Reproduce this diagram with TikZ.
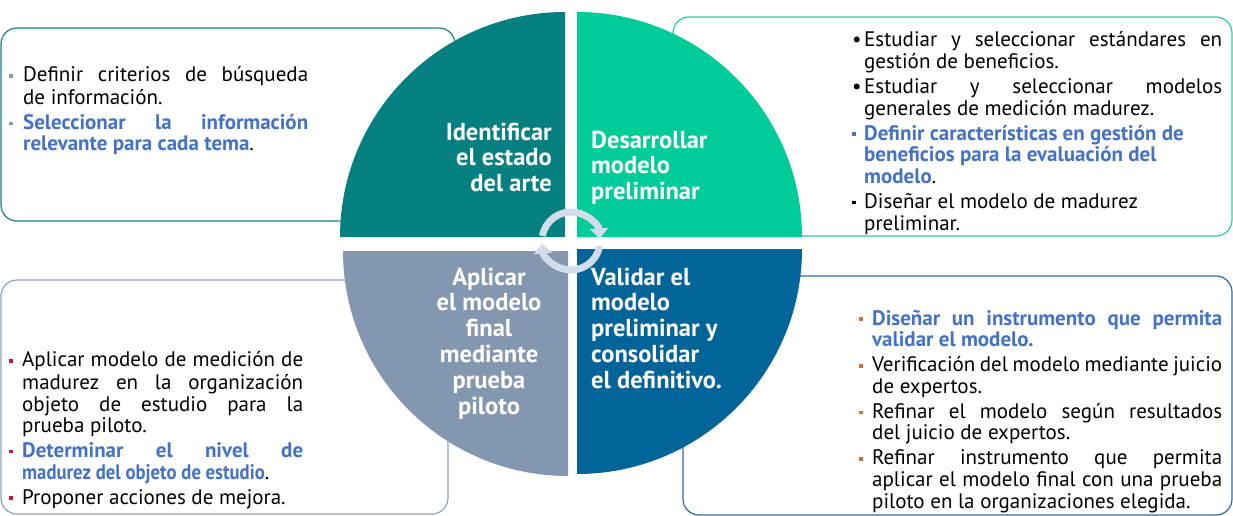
\documentclass[tikz,border=0pt]{standalone}
\usepackage{fontspec}
\setmainfont{PT Sans}
\usetikzlibrary{arrows.meta}
\definecolor{qA}{HTML}{03807F}
\definecolor{qB}{HTML}{00CC99}
\definecolor{qC}{HTML}{8497B0}
\definecolor{qD}{HTML}{03649A}
\definecolor{bA}{HTML}{1F7F7D}
\definecolor{bB}{HTML}{33CC99}
\definecolor{bC}{HTML}{8EA2BE}
\definecolor{bD}{HTML}{2E6DA3}
\definecolor{hl}{HTML}{4472C4}
\definecolor{gbul}{HTML}{7F9F9C}
\definecolor{rbul}{HTML}{C0163C}
\definecolor{obul}{HTML}{D2702F}
\definecolor{ringc}{HTML}{D3DCEA}
\newcommand\sqb[2]{\makebox[#2][l]{\textcolor{#1}{\rule[4.2pt]{3.6pt}{3.6pt}}}}
\newcommand\rdb[1]{\makebox[#1][l]{\textbullet}}
\newcommand\bitem[3]{\par\noindent\hangindent=#1\hangafter=1 #2#3}
\newcommand\boxsetup{\setlength{\parskip}{3.4pt}\hyphenpenalty=10000 \exhyphenpenalty=10000 }
\begin{document}
\begin{tikzpicture}[x=1pt,y=-1pt,
  frame/.style={line width=1.2pt, rounded corners=16pt, fill=white},
  boxtext/.style={inner sep=0pt, anchor=north west, align=justify,
    font={\fontsize{21}{21.6}\selectfont}},
  qtext/.style={inner sep=0pt, text=white, font={\fontsize{24.5}{25.8}\selectfont\bfseries}},
  ring/.style={line width=7pt, draw=ringc, -{Triangle[width=18pt,length=10pt]}}]
\useasboundingbox[fill=white] (0,0) rectangle (1233,516);
% boxes
\draw[frame, draw=bA] (1,28) rectangle (455,221);
\draw[frame, draw=bB] (673,17) rectangle (1232,236);
\draw[frame, draw=bC] (1,280) rectangle (448,514);
\draw[frame, draw=bD] (683,276) rectangle (1232,515);
% quadrants
\fill[qA] (565,237) -- ++(180:225) arc (180:270:225) -- cycle;
\fill[qB] (577,237) -- ++(270:225) arc (270:360:225) -- cycle;
\fill[qD] (577,249) -- ++(0:225) arc (0:90:225) -- cycle;
\fill[qC] (568,251) -- ++(90:225) arc (90:180:225) -- cycle;
% quadrant texts
\node[qtext, align=right, anchor=north east] (tA) at (552,121.9)
  {\strut Identificar\\el estado\\del arte};
\node[qtext, align=left, anchor=north west] (tB) at (591,129.9)
  {\strut Desarrollar\\modelo\\preliminar};
\node[qtext, align=left, anchor=north west] (tD) at (591,266.9)
  {\strut Validar el\\modelo\\preliminar y\\consolidar\\el definitivo.};
\node[qtext, align=center, anchor=north] (tC) at (489,266.9)
  {\strut Aplicar\\el modelo\\final\\mediante\\prueba\\piloto};
% box texts
\node[boxtext, text width=299pt] (xA) at (9,56.6) {\boxsetup
\bitem{14pt}{\sqb{gbul}{14pt}}{\strut Definir criterios de búsqueda\linebreak de información.}
\bitem{14pt}{\sqb{gbul}{14pt}}{\textcolor{hl}{\bfseries Seleccionar la información\linebreak relevante para cada tema}.}\par};
\node[boxtext, text width=370pt] (xB) at (852,20.9) {\boxsetup
\bitem{12pt}{\rdb{12pt}}{\strut Estudiar y seleccionar estándares en\linebreak gestión de beneficios.}
\bitem{12pt}{\rdb{12pt}}{Estudiar y seleccionar modelos\linebreak generales de medición madurez.}
\bitem{12pt}{\sqb{hl}{12pt}}{\textcolor{hl}{\bfseries Definir características en gestión de\\beneficios para la evaluación del\\modelo}.}
\bitem{12pt}{\sqb{black}{12pt}}{Diseñar el modelo de madurez\\preliminar.}\par};
\node[boxtext, text width=294pt] (xC) at (9,341.6) {\boxsetup
\bitem{13pt}{\sqb{rbul}{13pt}}{\strut Aplicar modelo de medición de\linebreak madurez en la organización\linebreak objeto de estudio para la\linebreak prueba piloto.}
\bitem{13pt}{\sqb{rbul}{13pt}}{\textcolor{hl}{\bfseries Determinar el nivel de\linebreak {\addfontfeature{FakeStretch=0.89}madurez del objeto de estudio}}.}
\bitem{13pt}{\sqb{rbul}{13pt}}{Proponer acciones de mejora.}\par};
\node[boxtext, text width=363pt] (xD) at (859,299.9) {\boxsetup
\bitem{13pt}{\sqb{obul}{13pt}}{\strut\textcolor{hl}{\bfseries Diseñar un instrumento que permita\linebreak validar el modelo.}}
\bitem{13pt}{\sqb{obul}{13pt}}{Verificación del modelo mediante juicio\linebreak de expertos.}
\bitem{13pt}{\sqb{obul}{13pt}}{Refinar el modelo según resultados\linebreak del juicio de expertos.}
\bitem{13pt}{\sqb{obul}{13pt}}{Refinar instrumento que permita\linebreak aplicar el modelo final con una prueba\linebreak piloto en la organizaciones elegida.}\par};
% cycle arrows
\coordinate (cc) at (571,241);
\draw[ring] (cc) ++(190:29) arc (190:355:29);
\draw[ring] (cc) ++(10:29) arc (10:175:29);
\end{tikzpicture}
\end{document}
